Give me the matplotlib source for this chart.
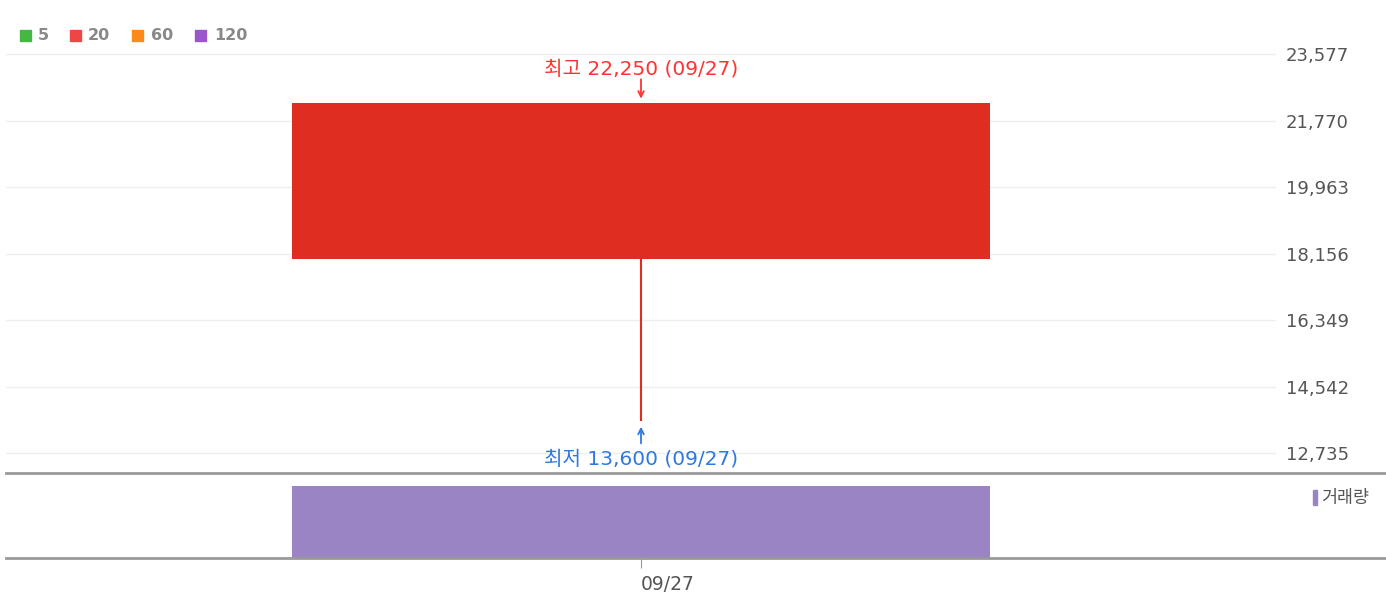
import matplotlib
matplotlib.use("Agg")
import matplotlib.pyplot as plt
from matplotlib.patches import Rectangle
from matplotlib.lines import Line2D

# ---- data ----
dates = ["09/27"]
opens = [18020]
highs = [22250]
lows = [13600]
closes = [22250]
volumes = [3500000]
price_ticks = [12735, 14542, 16349, 18156, 19963, 21770, 23577]
ma_labels = ["5", "20", "60", "120"]
ma_colors = ["#44b843", "#ee4545", "#fb8a1a", "#9a57cc"]

W, H = 1386, 600
fig = plt.figure(figsize=(W / 100, H / 100), dpi=100)
fig.patch.set_facecolor("white")

KR = ["Noto Sans CJK KR", "DejaVu Sans"]
MIX = ["DejaVu Sans", "Noto Sans CJK KR"]

def fx(px):
    return px / W

def fy(py):
    return 1 - py / H

# price axes: x from 6 to 1276 px, y from 40 to 473 px
ax = fig.add_axes([fx(6), fy(473), fx(1276 - 6), (473 - 40) / H])
# volume axes: y from 473 to 558
axv = fig.add_axes([fx(6), fy(558), fx(1276 - 6), (558 - 473) / H])

for a in (ax, axv):
    for s in a.spines.values():
        s.set_visible(False)
    a.set_facecolor("none")

# y scale so that gridlines fall at reference pixel rows
y_top_px, y_bot_px = 54, 453
ppu = (y_bot_px - y_top_px) / (price_ticks[-1] - price_ticks[0])
ylo = price_ticks[0] - (473 - y_bot_px) / ppu
yhi = price_ticks[-1] + (y_top_px - 40) / ppu
ax.set_ylim(ylo, yhi)
ax.set_xlim(-1, 1)
axv.set_xlim(-1, 1)

xs = list(range(len(dates)))
body_w = 1.098
for i in xs:
    o, h, l, c = opens[i], highs[i], lows[i], closes[i]
    col = "#e02d22" if c >= o else "#2e6fd8"
    ax.vlines(i, l, min(o, c), color=col, lw=1.5, zorder=3)
    ax.bar(i, abs(c - o), bottom=min(o, c), width=body_w, color=col, zorder=3)

ax.set_yticks(price_ticks)
ax.set_yticklabels([f"{v:,}" for v in price_ticks])
ax.yaxis.tick_right()
ax.tick_params(axis="y", length=0, pad=7, labelsize=13, labelcolor="#555555")
ax.set_xticks([])
ax.grid(axis="y", color="#eeeeee", lw=1)
ax.set_axisbelow(True)

# high / low annotations
hi_i = highs.index(max(highs))
lo_i = lows.index(min(lows))
ax.annotate("", xy=(hi_i, max(highs)), xytext=(0, 17), textcoords="offset points",
            arrowprops=dict(arrowstyle="->", color="#ff3333", lw=1.3,
                            shrinkA=0, shrinkB=3))
ax.annotate(f"최고 {max(highs):,} ({dates[hi_i]})", xy=(hi_i, max(highs)),
            xytext=(0, 24.5), textcoords="offset points", ha="center", va="center",
            color="#ff3333", fontsize=14.5, family=MIX)
ax.annotate("", xy=(lo_i, min(lows)), xytext=(0, -16), textcoords="offset points",
            arrowprops=dict(arrowstyle="->", color="#2f78e0", lw=1.3,
                            shrinkA=0, shrinkB=4))
ax.annotate(f"최저 {min(lows):,} ({dates[lo_i]})", xy=(lo_i, min(lows)),
            xytext=(0, -27.5), textcoords="offset points", ha="center", va="center",
            color="#2f78e0", fontsize=14.5, family=MIX)

# volume
vmax = max(volumes)
axv.set_ylim(0, vmax * 85 / 72)
axv.bar(xs, volumes, width=body_w, color="#9b84c4", zorder=3)
axv.set_yticks([])
axv.set_xticks(xs)
axv.set_xticklabels(dates)
axv.tick_params(axis="x", length=7, color="#999999", pad=5, labelsize=13.5,
                labelcolor="#555555")
for lbl in axv.get_xticklabels():
    lbl.set_ha("left")

# separators
for py in (473, 558):
    fig.add_artist(Line2D([fx(6), 1], [fy(py), fy(py)], color="#999999", lw=2,
                          transform=fig.transFigure))

# legend top-left
sq_x = [20, 70, 132, 195]
txt_x = [38, 88, 151, 214]
for x0, tx, lab, col in zip(sq_x, txt_x, ma_labels, ma_colors):
    fig.add_artist(Rectangle((fx(x0), fy(41)), fx(11), 11 / H, color=col,
                             transform=fig.transFigure))
    fig.text(fx(tx), fy(35.5), lab, color="#888888", fontsize=11.5,
             fontweight="bold", va="center", ha="left")

# volume legend
fig.add_artist(Rectangle((fx(1313), fy(505)), fx(4), 15 / H, color="#9b84c4",
                         transform=fig.transFigure))
fig.text(fx(1321), fy(497.5), "거래량", color="#555555", fontsize=12.5,
         va="center", ha="left", family=KR, fontweight="medium")

fig.savefig("out.png", dpi=100, facecolor="white")
